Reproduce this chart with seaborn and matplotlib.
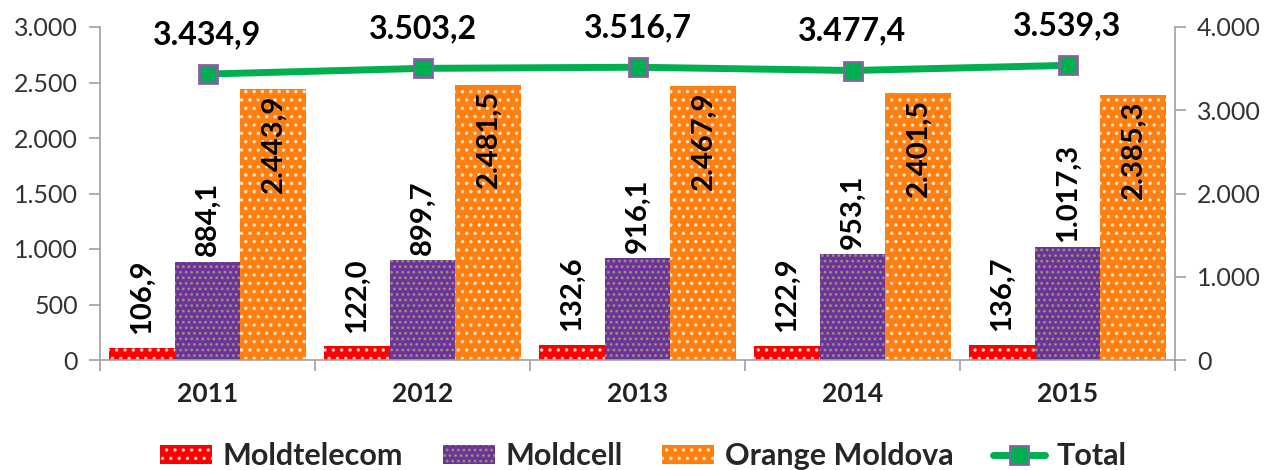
import matplotlib
matplotlib.use("Agg")
import matplotlib.pyplot as plt
from matplotlib.patches import Patch
from matplotlib.lines import Line2D
import seaborn as sns
import pandas as pd

years = ["2011", "2012", "2013", "2014", "2015"]
operators = ["Moldtelecom", "Moldcell", "Orange Moldova"]
moldtelecom = [106.9, 122.0, 132.6, 122.9, 136.7]
moldcell = [884.1, 899.7, 916.1, 953.1, 1017.3]
orange_md = [2443.9, 2481.5, 2467.9, 2401.5, 2385.3]
total = [3434.9, 3503.2, 3516.7, 3477.4, 3539.3]
left_ticks = [0, 500, 1000, 1500, 2000, 2500, 3000]
right_ticks = [0, 1000, 2000, 3000, 4000]

colors = {"Moldtelecom": "#FF0000", "Moldcell": "#7030A0", "Orange Moldova": "#FF7F11"}
dotcolors = {"Moldtelecom": "#FFD0D0", "Moldcell": "#8CA060", "Orange Moldova": "#FFE8D0"}
hatches = {"Moldtelecom": "..", "Moldcell": "...", "Orange Moldova": ".."}

def fmt(v, dec=1):
    s = f"{v:,.{dec}f}"
    return s.replace(",", "X").replace(".", ",").replace("X", ".")

sns.set_theme(style="white")
plt.rcParams["font.family"] = ["Lato", "DejaVu Sans"]
plt.rcParams["hatch.linewidth"] = 1.2

df = pd.DataFrame({
    "Year": years * 3,
    "Operator": [o for o in operators for _ in years],
    "Value": moldtelecom + moldcell + orange_md,
})

fig = plt.figure(figsize=(12.66, 4.70), dpi=100)
ax = fig.add_axes([100 / 1266, 1 - 360 / 470, 1075 / 1266, 333 / 470])

sns.barplot(data=df, x="Year", y="Value", hue="Operator", hue_order=operators,
            palette=colors, width=0.92, gap=0, saturation=1, legend=False, ax=ax,
            errorbar=None)

for cont, op in zip(ax.containers, operators):
    for bar in cont:
        bar.set_hatch(hatches[op])
        bar.set_edgecolor(dotcolors[op])
        bar.set_linewidth(0)
    for bar in cont:
        h = bar.get_height()
        xc = bar.get_x() + bar.get_width() / 2
        if op == "Orange Moldova":
            ax.annotate(fmt(h), (xc, h), xytext=(0, -4), textcoords="offset points",
                        rotation=90, ha="center", va="top", fontsize=21,
                        fontweight="bold", color="black")
        else:
            pad = 10 if op == "Moldtelecom" else 4
            ax.annotate(fmt(h), (xc, h), xytext=(0, pad), textcoords="offset points",
                        rotation=90, ha="center", va="bottom", fontsize=21,
                        fontweight="bold", color="black")

ax.set_ylim(0, 3000)
ax.set_yticks(left_ticks)
ax.set_yticklabels([fmt(t, 0) for t in left_ticks], fontsize=18, color="#333333")
ax.set_xlim(-0.5, len(years) - 0.5)
ax.set_xticks([i - 0.5 for i in range(len(years) + 1)])
ax.set_xticklabels([""] * (len(years) + 1))
ax.set_xticks(range(len(years)), minor=True)
ax.set_xticklabels(years, minor=True, fontsize=19, fontweight="bold", color="#222222")
ax.tick_params(axis="x", which="major", length=8, color="#A0A0A0", width=1.2, direction="out", bottom=True)
ax.tick_params(axis="x", which="minor", length=0, pad=16)
ax.tick_params(axis="y", length=8, color="#A0A0A0", width=1.2, direction="out", left=True, pad=8)
ax.set_xlabel("")
ax.set_ylabel("")
for s in ["top", "right"]:
    ax.spines[s].set_visible(False)
for s in ["left", "bottom"]:
    ax.spines[s].set_color("#A0A0A0")
    ax.spines[s].set_linewidth(1.2)

ax2 = ax.twinx()
tdf = pd.DataFrame({"Year": years, "Total": total})
sns.pointplot(data=tdf, x="Year", y="Total", color="#00B050", markers="s",
              linewidth=5, markersize=13, errorbar=None, ax=ax2,
              markeredgecolor="#8064A2", markeredgewidth=2)
for i, v in enumerate(total):
    ax2.annotate(fmt(v), (i, v), xytext=(0, 18), textcoords="offset points",
                 ha="center", va="bottom", fontsize=23, fontweight="bold", color="black")
ax2.set_ylim(0, 4000)
ax2.set_yticks(right_ticks)
ax2.set_yticklabels([fmt(t, 0) for t in right_ticks], fontsize=18, color="#333333")
ax2.set_xlim(-0.5, len(years) - 0.5)
ax2.set_ylabel("")
ax2.set_xlabel("")
ax2.tick_params(axis="y", length=8, color="#A0A0A0", width=1.2, direction="out", right=True, pad=8)
for s in ["top", "left", "bottom"]:
    ax2.spines[s].set_visible(False)
ax2.spines["right"].set_color("#A0A0A0")
ax2.spines["right"].set_linewidth(1.2)

handles = [Patch(facecolor=colors[o], edgecolor=dotcolors[o], hatch=hatches[o], linewidth=0, label=o)
           for o in operators]
handles.append(Line2D([0], [0], color="#00B050", lw=5, marker="s", markersize=13,
                      markerfacecolor="#00B050", markeredgecolor="#8064A2",
                      markeredgewidth=2, label="Total"))
fig.legend(handles=handles, loc="center", bbox_to_anchor=(0.5 + 10 / 1266, 1 - 456 / 470), ncol=4,
           frameon=False, prop={"weight": "bold", "size": 22},
           handlelength=1.7, handleheight=0.6, columnspacing=1.3, handletextpad=0.35)

fig.savefig("out.png", dpi=100)
